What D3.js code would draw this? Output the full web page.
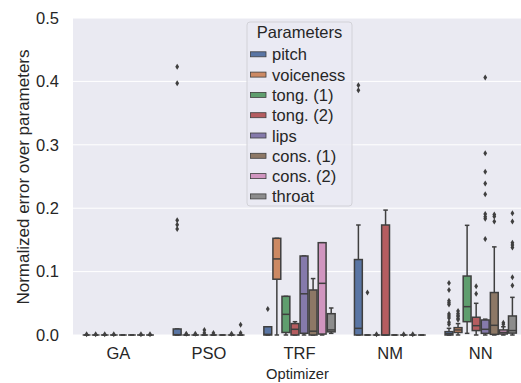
<!DOCTYPE html>
<html>
<head>
<meta charset="utf-8">
<script src="https://cdn.jsdelivr.net/npm/d3@7"></script>
<style>
  body { margin: 0; background: #fff; }
  svg { display: block; font-family: "Liberation Sans", Arial, sans-serif; }
</style>
</head>
<body>
<div id="chart"></div>
<script>
// categories
var optimizers = ["GA", "PSO", "TRF", "NM", "NN"];
var params = ["pitch", "voiceness", "tong. (1)", "tong. (2)", "lips", "cons. (1)", "cons. (2)", "throat"];
var yTicks = [0, 0.1, 0.2, 0.3, 0.4, 0.5];
var palette = ["#4C72B0", "#DD8452", "#55A868", "#C44E52", "#8172B3", "#937860", "#DA8BC3", "#8C8C8C"];

// box stats, one row per parameter: [whisker low, q1, median, q3, whisker high]
var statsGA = [[0,0,0,0,0],[0,0,0,0,0],[0,0,0,0,0],[0,0,0,0,0],[0,0,0,0,0],[0,0,0,0,0],[0,0,0,0,0],[0,0,0,0,0]];
var statsPSO = [[0,0,0.0005,0.0095,0.0095],[0,0,0,0,0],[0,0,0,0,0],[0,0,0,0,0],[0,0,0,0,0],[0,0,0,0,0],[0,0,0,0,0],[0,0,0,0,0]];
var statsTRF = [[0,0,0.001,0.013,0.013],[0,0.088,0.12,0.1525,0.1525],[0,0.004,0.0326,0.061,0.061],[0,0,0.009,0.018,0.021],
                [0,0.0027,0.065,0.1246,0.1246],[0,0,0.006,0.071,0.089],[0,0.0015,0.0815,0.1456,0.1456],[0.0026,0.005,0.008,0.0336,0.0426]];
var statsNM = [[0,0,0.0105,0.119,0.1735],[0,0,0,0,0],[0,0,0,0,0],[0,0,0,0.1735,0.197],[0,0,0,0,0],[0,0,0,0,0],[0,0,0,0,0],[0,0,0,0,0]];
var statsNN = [[0,0,0.002,0.0053,0.0105],[0,0.004,0.008,0.0116,0.018],[0.0026,0.021,0.0447,0.093,0.173],[0,0.007,0.0147,0.028,0.05],
               [0,0.0026,0.009,0.0237,0.025],[0,0.001,0.0153,0.067,0.139],[0,0.0016,0.004,0.008,0.013],[0,0.003,0.007,0.03,0.0594]];

// outliers, one list per parameter
var fliersGA = [[0.001],[0.001],[0.001],[0.001],[],[],[0.001],[0.001]];
var fliersPSO = [[0.423,0.397,0.181,0.174,0.167],[0.002],[0.002],[0.008,0.003],[0.003],[],[0.002],[0.016,0.003]];
var fliersTRF = [[0.041],[],[],[],[],[],[],[]];
var fliersNM = [[0.394,0.386],[0.067],[0.001],[],[],[0.001],[0.001],[]];
var fliersNN = [[0.082,0.071,0.054,0.051,0.048,0.033,0.030,0.027,0.020,0.017],[0.038,0.034,0.031,0.029,0.026,0.024],[],[0.077,0.065],
                [0.406,0.2866,0.2576,0.239,0.222,0.191,0.1866,0.1834,0.1514],[0.19,0.187,0.179],[0.0195,0.017],
                [0.192,0.179,0.1456,0.142,0.138,0.091,0.078]];

var allStats = [statsGA, statsPSO, statsTRF, statsNM, statsNN];
var allFliers = [fliersGA, fliersPSO, fliersTRF, fliersNM, fliersNN];

var W = 521, H = 383;
var margin = {left: 73, top: 18};
var plotW = 453, plotH = 317;
var lineCol = "#3f3f3f", textCol = "#262626";

var svg = d3.select("#chart").append("svg")
	.attr("width", W).attr("height", H);

var canvas = svg.append("g")
	.attr("transform", "translate(" + margin.left + "," + margin.top + ")");

var x = d3.scaleBand().domain(optimizers).range([0, plotW]);
var hue = d3.scaleBand().domain(params).range([0, x.bandwidth() * 0.8]);
var y = d3.scaleLinear().domain([0, 0.5]).range([plotH, 0]);

function desat(c) {
	var h = d3.hsl(c);
	h.s *= 0.75;
	return h.formatHex();
}
var color = d3.scaleOrdinal().domain(params).range(palette.map(desat));

// background + grid
canvas.append("rect")
	.attr("width", plotW).attr("height", plotH)
	.attr("fill", "#EAEAF2");

canvas.selectAll(".grid").data(yTicks).enter()
	.append("line")
	.attr("x1", 0).attr("x2", plotW)
	.attr("y1", function(d){ return y(d) }).attr("y2", function(d){ return y(d) })
	.attr("stroke", "#fff").attr("stroke-width", 1);

// axes (labels only, no spines)
var yAxis = canvas.append("g")
	.call(d3.axisLeft(y).tickValues(yTicks).tickFormat(d3.format(".1f")).tickSize(0).tickPadding(14));
var xAxis = canvas.append("g")
	.attr("transform", "translate(0," + plotH + ")")
	.call(d3.axisBottom(x).tickSize(0).tickPadding(12));
canvas.selectAll(".domain").remove();
canvas.selectAll(".tick text")
	.attr("fill", textCol)
	.style("font-size", "16.5px")
	.style("font-family", "Liberation Sans, Arial, sans-serif");

// axis labels
svg.append("text")
	.attr("transform", "translate(28.5,177) rotate(-90)")
	.attr("text-anchor", "middle")
	.attr("fill", textCol)
	.style("font-size", "17px")
	.text("Normalized error over parameters");

svg.append("text")
	.attr("x", margin.left + plotW / 2 - 2)
	.attr("y", 379)
	.attr("text-anchor", "middle")
	.attr("fill", textCol)
	.style("font-size", "14.7px")
	.text("Optimizer");

// boxes
var bw = hue.bandwidth();
var boxes = [];
optimizers.forEach(function(opt, i){
	params.forEach(function(p, j){
		var s = allStats[i][j];
		boxes.push({opt: opt, param: p, lo: s[0], q1: s[1], med: s[2], q3: s[3], hi: s[4], fliers: allFliers[i][j]});
	});
});

var g = canvas.selectAll(".box").data(boxes).enter()
	.append("g")
	.attr("transform", function(d){
		return "translate(" + (x(d.opt) + x.bandwidth() * 0.1 + hue(d.param) + bw / 2) + ",0)";
	});

// whiskers
g.append("line")
	.attr("x1", 0).attr("x2", 0)
	.attr("y1", function(d){ return y(d.hi) }).attr("y2", function(d){ return y(d.q3) })
	.attr("stroke", lineCol).attr("stroke-width", 1.5);
g.append("line")
	.attr("x1", 0).attr("x2", 0)
	.attr("y1", function(d){ return y(d.q1) }).attr("y2", function(d){ return y(d.lo) })
	.attr("stroke", lineCol).attr("stroke-width", 1.5);
// caps
g.selectAll(".cap").data(function(d){ return [d.lo, d.hi] }).enter()
	.append("line")
	.attr("x1", -bw / 4).attr("x2", bw / 4)
	.attr("y1", function(v){ return y(v) }).attr("y2", function(v){ return y(v) })
	.attr("stroke", lineCol).attr("stroke-width", 1.5);

g.append("rect")
	.attr("x", -bw / 2 + 0.6)
	.attr("width", bw - 1.2)
	.attr("y", function(d){ return y(d.q3) })
	.attr("height", function(d){ return y(d.q1) - y(d.q3) })
	.attr("fill", function(d){ return color(d.param) })
	.attr("stroke", lineCol).attr("stroke-width", 1.5);

g.append("line")
	.attr("x1", -bw / 2 + 0.6).attr("x2", bw / 2 - 0.6)
	.attr("y1", function(d){ return y(d.med) }).attr("y2", function(d){ return y(d.med) })
	.attr("stroke", lineCol).attr("stroke-width", 1.5);

// fliers (thin diamonds)
g.selectAll(".flier").data(function(d){ return d.fliers }).enter()
	.append("path")
	.attr("d", function(v){
		var cy = y(v);
		return "M0," + (cy - 3) + "L1.9," + cy + "L0," + (cy + 3) + "L-1.9," + cy + "Z";
	})
	.attr("fill", lineCol);

// legend
var legend = svg.append("g").attr("transform", "translate(247,22)");
legend.append("rect")
	.attr("width", 105).attr("height", 184)
	.attr("rx", 3)
	.attr("fill", "#EAEAF2").attr("fill-opacity", 0.8)
	.attr("stroke", "#d2d2d8").attr("stroke-width", 1);
legend.append("text")
	.attr("x", 52.5).attr("y", 15.5)
	.attr("text-anchor", "middle")
	.attr("fill", textCol)
	.style("font-size", "16.5px")
	.text("Parameters");

params.forEach(function(p, i){
	var row = legend.append("g")
		.attr("transform", "translate(0," + (32.3 + i * 20.3) + ")");
	row.append("rect")
		.attr("x", 3.5).attr("y", -2.5)
		.attr("width", 15.5).attr("height", 5)
		.attr("fill", color(p))
		.attr("stroke", lineCol).attr("stroke-width", 0.8);
	row.append("text")
		.attr("x", 25).attr("y", 6)
		.attr("fill", textCol)
		.style("font-size", "16.5px")
		.text(p);
});
</script>
</body>
</html>
